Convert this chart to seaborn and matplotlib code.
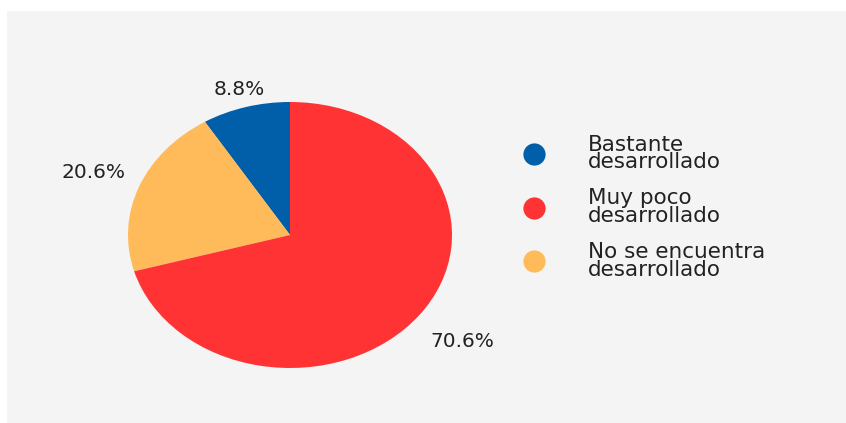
import numpy as np
import matplotlib.pyplot as plt
import seaborn as sns
from matplotlib.lines import Line2D
from matplotlib.patches import Rectangle

# Data
categories = ['Bastante\ndesarrollado', 'Muy poco\ndesarrollado', 'No se encuentra\ndesarrollado']
values = [8.8, 70.6, 20.6]
colors = ['#005fa8', '#ff3333', '#ffba59']

# pie order (counterclockwise from top): blue, yellow, red
pie_order = [0, 2, 1]
label_dist = [1.14, 1.30, 1.33]

sns.set_theme(style='white')
plt.rcParams['font.family'] = ['DejaVu Sans']

fig = plt.figure(figsize=(8.46, 4.23), dpi=100)
fig.patch.set_facecolor('white')
fig.patches.append(Rectangle((7 / 846, 0), 1, 1 - 11 / 423, transform=fig.transFigure,
                             facecolor='#f4f4f4', edgecolor='none', zorder=-10))

ax = fig.add_axes([128 / 846, 55 / 423, 324 / 846, 266 / 423])
ax.set_facecolor('none')
wedges, texts, autotexts = ax.pie(
    [values[i] for i in pie_order],
    colors=[colors[i] for i in pie_order],
    startangle=90, counterclock=True,
    autopct='%.1f%%', pctdistance=1.24,
    textprops={'fontsize': 14.5, 'color': '#222222'},
    wedgeprops={'linewidth': 0},
)
# push each percentage label out along its wedge's mid angle
for w, t, d in zip(wedges, autotexts, label_dist):
    mid = np.deg2rad((w.theta1 + w.theta2) / 2)
    t.set_position((d * np.cos(mid), d * np.sin(mid)))
ax.set_aspect('auto')
ax.set_xlim(-1, 1)
ax.set_ylim(-1, 1)
ax.axis('off')

handles = [Line2D([0], [0], marker='o', linestyle='none', markersize=16,
                  markerfacecolor=c, markeredgecolor='none') for c in colors]
fig.legend(handles, categories, loc='center left', bbox_to_anchor=(0.619, 0.51),
           frameon=False, fontsize=15.5, handlelength=1.0, handletextpad=2.0,
           labelspacing=0.75, borderpad=0, borderaxespad=0,
           labelcolor='#222222')
for t in fig.legends[0].get_texts():
    t.set_linespacing(0.85)

fig.savefig('out.png', dpi=100)
